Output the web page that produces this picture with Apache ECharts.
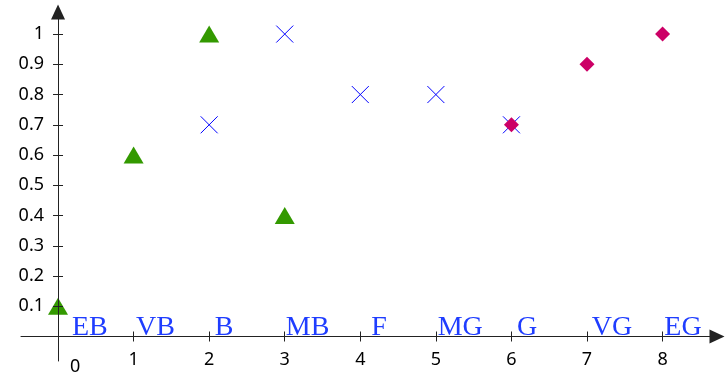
<!DOCTYPE html>
<html><head><meta charset="utf-8">
<script src="https://cdn.jsdelivr.net/npm/echarts@6/dist/echarts.min.js"></script>
<style>html,body{margin:0;padding:0;background:#fff}#c{width:725px;height:376px}</style>
</head><body><div id="c"></div>
<script>
const xTicks = [0, 1, 2, 3, 4, 5, 6, 7, 8];
const yTicks = [0.1, 0.2, 0.3, 0.4, 0.5, 0.6, 0.7, 0.8, 0.9, 1];
const triangleData = [[0, 0.1], [1, 0.6], [2, 1], [3, 0.4]];
const crossData = [[2, 0.7], [3, 1], [4, 0.8], [5, 0.8], [6, 0.7]];
const diamondData = [[6, 0.7], [7, 0.9], [8, 1]];
const termNames = ['EB', 'VB', 'B', 'MB', 'F', 'MG', 'G', 'VG', 'EG'];
const termX = [0.19, 1.04, 2.08, 3.02, 4.15, 5.03, 6.08, 7.07, 8.03];

const chart = echarts.init(document.getElementById('c'));
const tickFont = { fontFamily: 'Noto Sans', fontSize: 18, color: '#000' };
const axisColor = '#222';
const xRange = { min: -0.49, max: 8.72 };
const yRange = { min: -0.081, max: 1.073 };

chart.setOption({
  animation: false,
  grid: { left: 21, right: 8, top: 12, bottom: 15, containLabel: false, outerBoundsMode: 'none' },
  xAxis: [
    Object.assign({
      type: 'value', position: 'bottom', z: 5,
      axisLine: { show: true, onZero: true, onZeroAxisIndex: 0, symbol: ['none', 'triangle'], symbolSize: [14, 15], lineStyle: { color: axisColor, width: 1 } },
      axisTick: { show: true, inside: false, length: 5, customValues: xTicks, lineStyle: { color: axisColor } },
      axisLabel: Object.assign({ show: true, margin: -10, customValues: xTicks,
        formatter: v => v === 0 ? '{z|0}' : String(v),
        rich: { z: { fontFamily: 'Noto Sans', fontSize: 18, color: '#000', padding: [7, 0, 0, 34] } } }, tickFont),
      splitLine: { show: false }
    }, xRange),
    Object.assign({
      type: 'value', position: 'top', z: 5,
      axisLine: { show: false, onZero: true, onZeroAxisIndex: 0 },
      axisTick: { show: true, inside: false, length: 5, customValues: xTicks, lineStyle: { color: axisColor } },
      axisLabel: { show: false },
      splitLine: { show: false }
    }, xRange)
  ],
  yAxis: [
    Object.assign({
      type: 'value', position: 'left', z: 5,
      axisLine: { show: true, onZero: true, onZeroAxisIndex: 0, symbol: ['none', 'triangle'], symbolSize: [14, 15], lineStyle: { color: axisColor, width: 1 } },
      axisTick: { show: true, inside: false, length: 5, customValues: yTicks, lineStyle: { color: axisColor } },
      axisLabel: Object.assign({ show: true, margin: -23, customValues: yTicks, formatter: v => String(v) }, tickFont),
      splitLine: { show: false }
    }, yRange),
    Object.assign({
      type: 'value', position: 'right', z: 5,
      axisLine: { show: false, onZero: true, onZeroAxisIndex: 0 },
      axisTick: { show: true, inside: false, length: 5, customValues: yTicks, lineStyle: { color: axisColor } },
      axisLabel: { show: false },
      splitLine: { show: false }
    }, yRange)
  ],
  series: [
    { type: 'scatter', xAxisIndex: 0, yAxisIndex: 0, z: 2, data: triangleData,
      symbol: 'triangle', symbolSize: [20, 17], itemStyle: { color: '#339900', opacity: 1 } },
    { type: 'scatter', xAxisIndex: 0, yAxisIndex: 0, z: 2, data: crossData,
      symbol: 'path://M0,0L10,10M10,0L0,10', symbolSize: 17,
      itemStyle: { color: 'transparent', borderColor: '#0000ff', borderWidth: 1, opacity: 1 } },
    { type: 'scatter', xAxisIndex: 0, yAxisIndex: 0, z: 3, data: diamondData,
      symbol: 'diamond', symbolSize: 15, itemStyle: { color: '#cc0066', opacity: 1 } },
    { type: 'scatter', xAxisIndex: 0, yAxisIndex: 0, z: 4,
      data: termX.map((x, i) => ({ value: [x, 0], name: termNames[i] })),
      symbolSize: 1, itemStyle: { color: 'transparent', opacity: 1 },
      label: { show: true, position: [0, 0], align: 'left', verticalAlign: 'bottom', offset: [0, 6],
        formatter: p => p.name, fontFamily: 'Liberation Serif', fontSize: 28, color: '#1f3dff' } }
  ]
});
</script></body></html>
